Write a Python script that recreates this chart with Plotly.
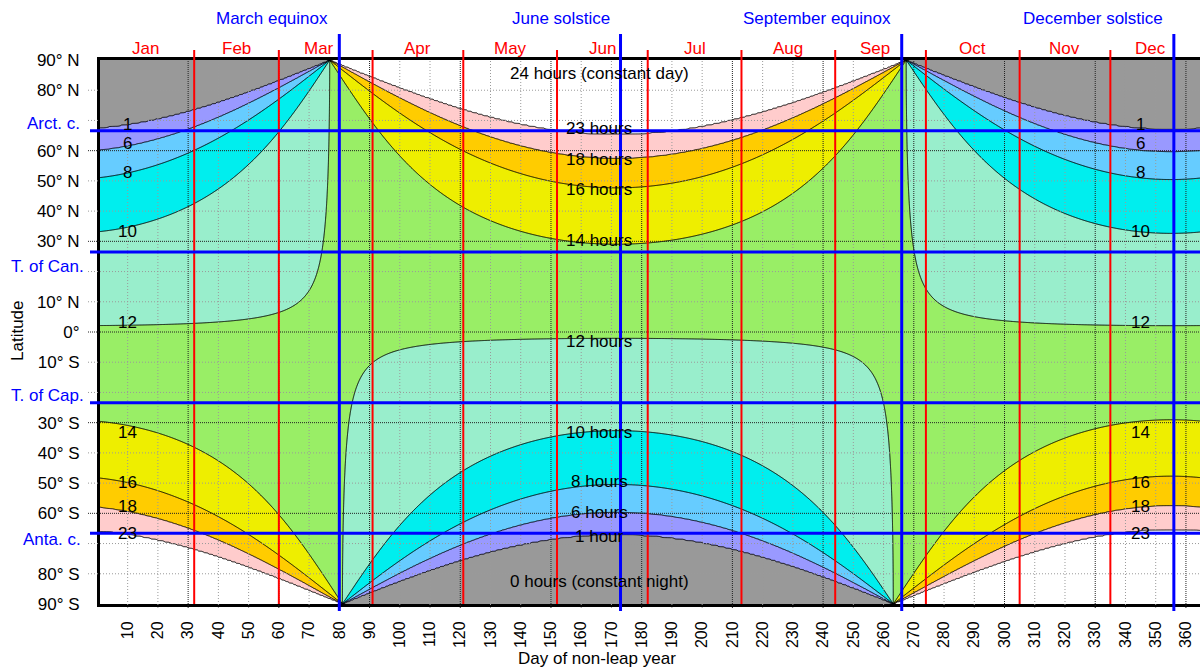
import numpy as np
import plotly.graph_objects as go

# ---- data -------------------------------------------------------------
# Day-length contour levels (hours)
LEVELS = [1, 6, 8, 10, 12, 14, 16, 18, 23]
# Fill colours: below 1 h, between successive levels, above 23 h
BAND_COLORS = ["#999999", "#9999FF", "#66CCFF", "#00EEEE", "#99EECC",
               "#99EE66", "#EEEE00", "#FFCC00", "#FFCCCC", "#FFFFFF"]

MONTHS = ["Jan", "Feb", "Mar", "Apr", "May", "Jun",
          "Jul", "Aug", "Sep", "Oct", "Nov", "Dec"]
MONTH_START_DAYS = [32, 60, 91, 121, 152, 182, 213, 244, 274, 305, 335]

SEASON_NAMES = ["March equinox", "June solstice",
                "September equinox", "December solstice"]
SEASON_DAYS = [80, 173, 266, 356]

CIRCLE_NAMES = ["Arct. c.", "T. of Can.", "T. of Cap.", "Anta. c."]
CIRCLE_LATS = [66.56, 26.5, -23.44, -66.56]

LAT_TICKS = list(range(90, -91, -10))
LAT_TEXT = ["90° N", "80° N", "", "60° N", "50° N", "40° N", "30° N", "",
            "10° N", "0°", "10° S", "", "30° S", "40° S", "50° S", "60° S",
            "", "80° S", "90° S"]
DAY_TICKS = list(range(10, 361, 10))

# Sun model constants
OBLIQUITY = 23.44        # degrees
HORIZON_ALT = -0.833     # refraction + solar semi-diameter, degrees
DAY_OFFSET = 0.5

# ---- day length field ----------------------------------------------------
days = np.arange(0.0, 366.01, 0.5)
lats = np.arange(-90.0, 90.01, 0.5)

n = days + DAY_OFFSET
g = np.radians(0.98565 * (n - 2))
ecl = np.radians(0.98565 * (n + 10)) + np.radians(1.914) * np.sin(g)
decl = -np.arcsin(np.sin(np.radians(OBLIQUITY)) * np.cos(ecl))

PHI, DEC = np.meshgrid(np.radians(lats), decl, indexing="ij")
cosw = (np.sin(np.radians(HORIZON_ALT)) - np.sin(PHI) * np.sin(DEC)) / (
    np.cos(PHI) * np.cos(DEC))
cosw = np.clip(np.nan_to_num(cosw, nan=1.0, posinf=1.0, neginf=-1.0), -1, 1)
hours = 2 * np.degrees(np.arccos(cosw)) / 15.0

# map hours to evenly spaced band indices so each level is one contour step
edges = [0] + LEVELS + [24]
band = np.interp(hours.ravel(), edges, np.arange(len(edges))).reshape(hours.shape)
band = band.astype(np.float32)

colorscale = [[k / (len(BAND_COLORS) - 1), c] for k, c in enumerate(BAND_COLORS)]

fig = go.Figure()
fig.add_trace(go.Contour(
    x=days, y=lats, z=band,
    autocontour=False,
    contours=dict(start=1, end=len(LEVELS), size=1, coloring="fill",
                  showlines=True),
    colorscale=colorscale, showscale=False,
    line=dict(color="black", width=1, smoothing=0),
    hoverinfo="skip",
))

# ---- layout geometry ---------------------------------------------------
L, R, T, B = 100, 0, 60, 66
W, H = 1200, 670
PW, PH = W - L - R, H - T - B
XR = [0.85, 364.65]
FONT = "Liberation Sans, Arial, sans-serif"


def px_x(px):
    return (px - L) / PW


def px_y(py):
    return (H - B - py) / PH


shapes = []
# dotted grid
for d in DAY_TICKS:
    dark = d % 30 == 0
    shapes.append(dict(type="line", xref="x", yref="paper", x0=d, x1=d,
                       y0=px_y(H - B + 4), y1=1, layer="above",
                       line=dict(color="#222" if dark else "#9a9a9a",
                                 width=1, dash="1px,1px" if dark else "1px,2px")))
for lat in range(-80, 81, 10):
    dark = lat % 30 == 0
    shapes.append(dict(type="line", xref="paper", yref="y", x0=px_x(88), x1=1,
                       y0=lat, y1=lat, layer="above",
                       line=dict(color="#222" if dark else "#9a9a9a",
                                 width=1, dash="1px,1px" if dark else "1px,2px")))
# month boundaries
for d in MONTH_START_DAYS:
    shapes.append(dict(type="line", xref="x", yref="paper", x0=d, x1=d,
                       y0=0, y1=px_y(50), layer="above",
                       line=dict(color="#FF0000", width=2)))
# equinoxes and solstices
for d in SEASON_DAYS:
    shapes.append(dict(type="line", xref="x", yref="paper", x0=d, x1=d,
                       y0=px_y(611), y1=px_y(34), layer="above",
                       line=dict(color="#0000FF", width=3)))
# polar circles and tropics
for lat in CIRCLE_LATS:
    shapes.append(dict(type="line", xref="paper", yref="y", x0=px_x(90), x1=1,
                       y0=lat, y1=lat, layer="above",
                       line=dict(color="#0000FF", width=3)))

ann = []


def label(text, x, y, xref, yref, font, xanchor="center", **kw):
    ann.append(dict(text=text, x=x, y=y, xref=xref, yref=yref,
                    xanchor=xanchor, yanchor="middle", showarrow=False,
                    font=font, **kw))


red = dict(color="#FF0000", size=17, family=FONT)
blue = dict(color="#0000FF", size=17, family=FONT)
black = dict(color="black", size=17, family=FONT)

# month names
MONTH_LABEL_X = [16, 46, 73.3, 106, 136.5, 167, 197.5, 228.5, 257, 289.5, 320, 348.2]
for name, x in zip(MONTHS, MONTH_LABEL_X):
    label(name, x, px_y(48), "x", "paper", red)
# season names, set just left of their lines
for name, d in zip(SEASON_NAMES, SEASON_DAYS):
    label(name, d, px_y(18), "x", "paper", blue, xanchor="right", xshift=-9)
# circle names on the latitude axis
CIRCLE_LABEL_Y = [69.1, 21.6, -20.9, -68.8]
CIRCLE_LABEL_RIGHT = [82, 86, 86, 83]
for name, y, xr in zip(CIRCLE_NAMES, CIRCLE_LABEL_Y, CIRCLE_LABEL_RIGHT):
    label(name, px_x(xr), y, "paper", "y", blue, xanchor="right")

# contour labels
MID_X = 166
mid_labels = [
    ("24 hours (constant day)", 85.4),
    (f"{LEVELS[8]} hours", 67.5),
    (f"{LEVELS[7]} hours", 57.2),
    (f"{LEVELS[6]} hours", 47.3),
    (f"{LEVELS[5]} hours", 30.4),
    (f"{LEVELS[4]} hours", -3.0),
    (f"{LEVELS[3]} hours", -33.1),
    (f"{LEVELS[2]} hours", -49.6),
    (f"{LEVELS[1]} hours", -59.6),
    (f"{LEVELS[0]} hour", -67.8),
    ("0 hours (constant night)", -82.7),
]
for text, y in mid_labels:
    label(text, MID_X, y, "x", "y", black)

SIDE_Y = [68.5, 62.5, 52.9, 33.1, 3.0, -33.1, -49.9, -57.9, -66.8]
for lev, y in zip(LEVELS, SIDE_Y):
    for x in (10, 345):
        label(str(lev), x, y, "x", "y", black)

# axis titles
label("Day of non-leap year", px_x(597), px_y(658), "paper", "paper", black)
label("Latitude", px_x(17), px_y(331), "paper", "paper", black, textangle=-90)

fig.update_layout(
    width=W, height=H,
    margin=dict(l=L, r=R, t=T, b=B, pad=0),
    paper_bgcolor="white", plot_bgcolor="white",
    shapes=shapes, annotations=ann,
    showlegend=False,
    font=dict(family=FONT, size=17, color="black"),
    xaxis=dict(range=XR, tickvals=DAY_TICKS, tickangle=-90,
               tickfont=dict(size=16, family=FONT, color="black"),
               showgrid=False, zeroline=False,
               showline=True, linewidth=3, linecolor="black", mirror=True,
               ticks="outside", ticklen=8, tickcolor="rgba(0,0,0,0)"),
    yaxis=dict(range=[-90, 90], tickvals=LAT_TICKS, ticktext=LAT_TEXT,
               tickfont=dict(size=17, family=FONT, color="black"),
               showgrid=False, zeroline=False,
               showline=True, linewidth=3, linecolor="black", mirror=False,
               ticks="outside", ticklen=14, tickcolor="rgba(0,0,0,0)"),
)

fig.write_html("out.html")
